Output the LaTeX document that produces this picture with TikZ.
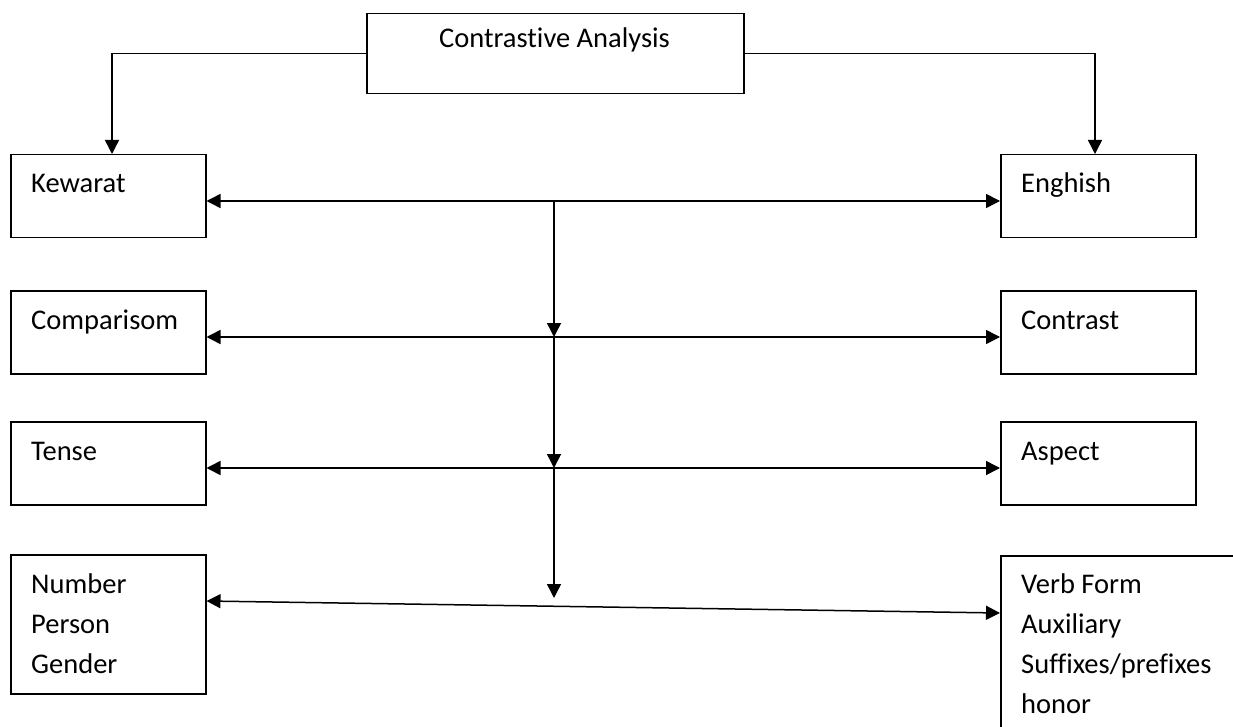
\documentclass[tikz,border=0pt]{standalone}
\usepackage{fontspec}
\setmainfont{Carlito}[Ligatures=NoCommon]
\usetikzlibrary{arrows.meta}
\tikzset{
  box/.style={draw=black, line width=1.5pt, minimum width=195pt, minimum height=83pt, inner sep=0pt, anchor=north west},
  txt/.style={anchor=base west, inner sep=0pt, font=\fontsize{28.5}{40}\selectfont},
  conn/.style={draw=black, line width=1.5pt},
  arr/.style={conn, -{Triangle[length=14pt,width=14pt]}},
  darr/.style={conn, {Triangle[length=14pt,width=14pt]}-{Triangle[length=14pt,width=14pt]}}
}
\begin{document}
\begin{tikzpicture}[x=1pt,y=-1pt]
\clip (0,0) rectangle (1233,727);
\fill[white] (0,0) rectangle (1233,727);
% top box
\node[box, minimum width=377pt, minimum height=80pt] (top) at (366,13) {};
\node[anchor=base, inner sep=0pt, font=\fontsize{28.5}{40}\selectfont] (toptxt) at (554.5,48) {Contrastive Analysis};
% left column
\node[box] (kew) at (10,154) {};
\node[txt] (kewt) at (31,193) {Kewarat};
\node[box] (cmp) at (10,290) {};
\node[txt] (cmpt) at (31,329) {Comparisom};
\node[box] (ten) at (10,421) {};
\node[txt] (tent) at (31,460) {Tense};
\node[box, minimum height=139pt] (num) at (10,554) {};
\node[txt] (numt1) at (31,593) {Number};
\node[txt] (numt2) at (31,633) {Person};
\node[txt] (numt3) at (31,673) {Gender};
% right column
\node[box] (eng) at (1000,154) {};
\node[txt] (engt) at (1021,193) {Enghish};
\node[box] (con) at (1000,290) {};
\node[txt] (cont) at (1021,329) {Contrast};
\node[box] (asp) at (1000,421) {};
\node[txt] (aspt) at (1021,460) {Aspect};
\node[box, minimum width=300pt, minimum height=250pt] (vrb) at (1000,555) {};
\node[txt] (vrbt1) at (1021,593) {Verb Form};
\node[txt] (vrbt2) at (1021,633) {Auxiliary};
\node[txt] (vrbt3) at (1021,673) {Suffixes/prefixes};
\node[txt] (vrbt4) at (1021,713) {honor};
% junctions
\coordinate (j1) at (554,201);
\coordinate (j2) at (554,337);
\coordinate (j3) at (554,468);
\coordinate (j4) at (554,598);
\coordinate (kl) at (112,154);
\coordinate (er) at (1095,154);
\coordinate (bl) at (0,601);
\coordinate (br) at (0,613);
% connectors from top
\draw[arr] (top.west) -| (kl);
\draw[arr] (top.east) -| (er);
% horizontal double arrows
\draw[darr] (kew.east |- j1) -- (eng.west |- j1);
\draw[darr] (cmp.east |- j2) -- (con.west |- j2);
\draw[darr] (ten.east |- j3) -- (asp.west |- j3);
\draw[darr] (num.east |- bl) -- (vrb.west |- br);
% vertical arrows
\draw[arr] (j1) -- (j2);
\draw[arr] (j2) -- (j3);
\draw[arr] (j3) -- (j4);
\end{tikzpicture}
\end{document}
